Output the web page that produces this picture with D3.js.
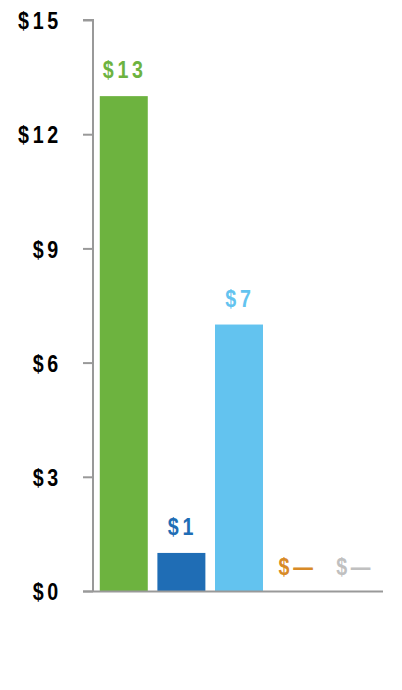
<!DOCTYPE html>
<html><head><meta charset="utf-8">
<script src="https://cdn.jsdelivr.net/npm/d3@7"></script>
<style>html,body{margin:0;padding:0;background:#fff;}</style>
</head><body>
<svg id="c" width="402" height="690"></svg>
<script>
const categories = ["A", "B", "C", "D", "E"];
const values = [13, 1, 7, 0, 0];
const valueLabels = ["$13", "$1", "$7", "$\u2014", "$\u2014"];
const colors = ["#6db33f", "#1f6db5", "#63c3ef", "#d88a27", "#c0c0c0"];
const tickValues = [0, 3, 6, 9, 12, 15];
const tickLabels = ["$0", "$3", "$6", "$9", "$12", "$15"];

const svg = d3.select("#c");
const font = "'Liberation Sans', Arial, sans-serif";
const sx = 0.82;
const y = d3.scaleLinear().domain([0, 15]).range([591, 20]);
const x = d3.scaleBand().domain(categories).range([95, 383]).paddingInner(0.167).paddingOuter(0.083);

// y axis
const yAxis = d3.axisLeft(y).tickValues(tickValues).tickSize(10).tickPadding(0)
  .tickFormat((d, i) => tickLabels[i]);
const gy = svg.append("g").attr("transform", "translate(93,0)").call(yAxis);
gy.select(".domain").attr("stroke", "#999").attr("stroke-width", 2).attr("d", "M-10,20H0V591");
gy.selectAll(".tick line").attr("stroke", "#999").attr("stroke-width", 2);
gy.selectAll(".tick text").attr("fill", "#000").attr("x", 0)
  .attr("transform", `translate(-31,0) scale(${sx},1)`)
  .style("font-family", font)
  .style("font-size", "24px").style("font-weight", "bold").style("letter-spacing", "4.5px")
  .attr("dy", "0.36em");

// bars
svg.append("g").selectAll("rect").data(values).join("rect")
  .attr("x", (d, i) => x(categories[i]))
  .attr("width", x.bandwidth())
  .attr("y", d => y(d))
  .attr("height", d => y(0) - y(d))
  .attr("fill", (d, i) => colors[i]);

// x baseline
svg.append("line").attr("x1", 83).attr("x2", 383).attr("y1", 591.5).attr("y2", 591.5)
  .attr("stroke", "#999").attr("stroke-width", 2);

// value labels
svg.append("g").selectAll("text").data(values).join("text")
  .attr("transform", (d, i) => `translate(${x(categories[i]) + x.bandwidth() / 2 + 1},${d > 0 ? y(d) - 18 : y(0) - 16}) scale(${sx},1)`)
  .attr("text-anchor", "middle")
  .attr("fill", (d, i) => colors[i])
  .style("font-family", font).style("font-size", "24px").style("font-weight", "bold")
  .style("letter-spacing", "4.5px")
  .text((d, i) => valueLabels[i]);
</script>
</body></html>
